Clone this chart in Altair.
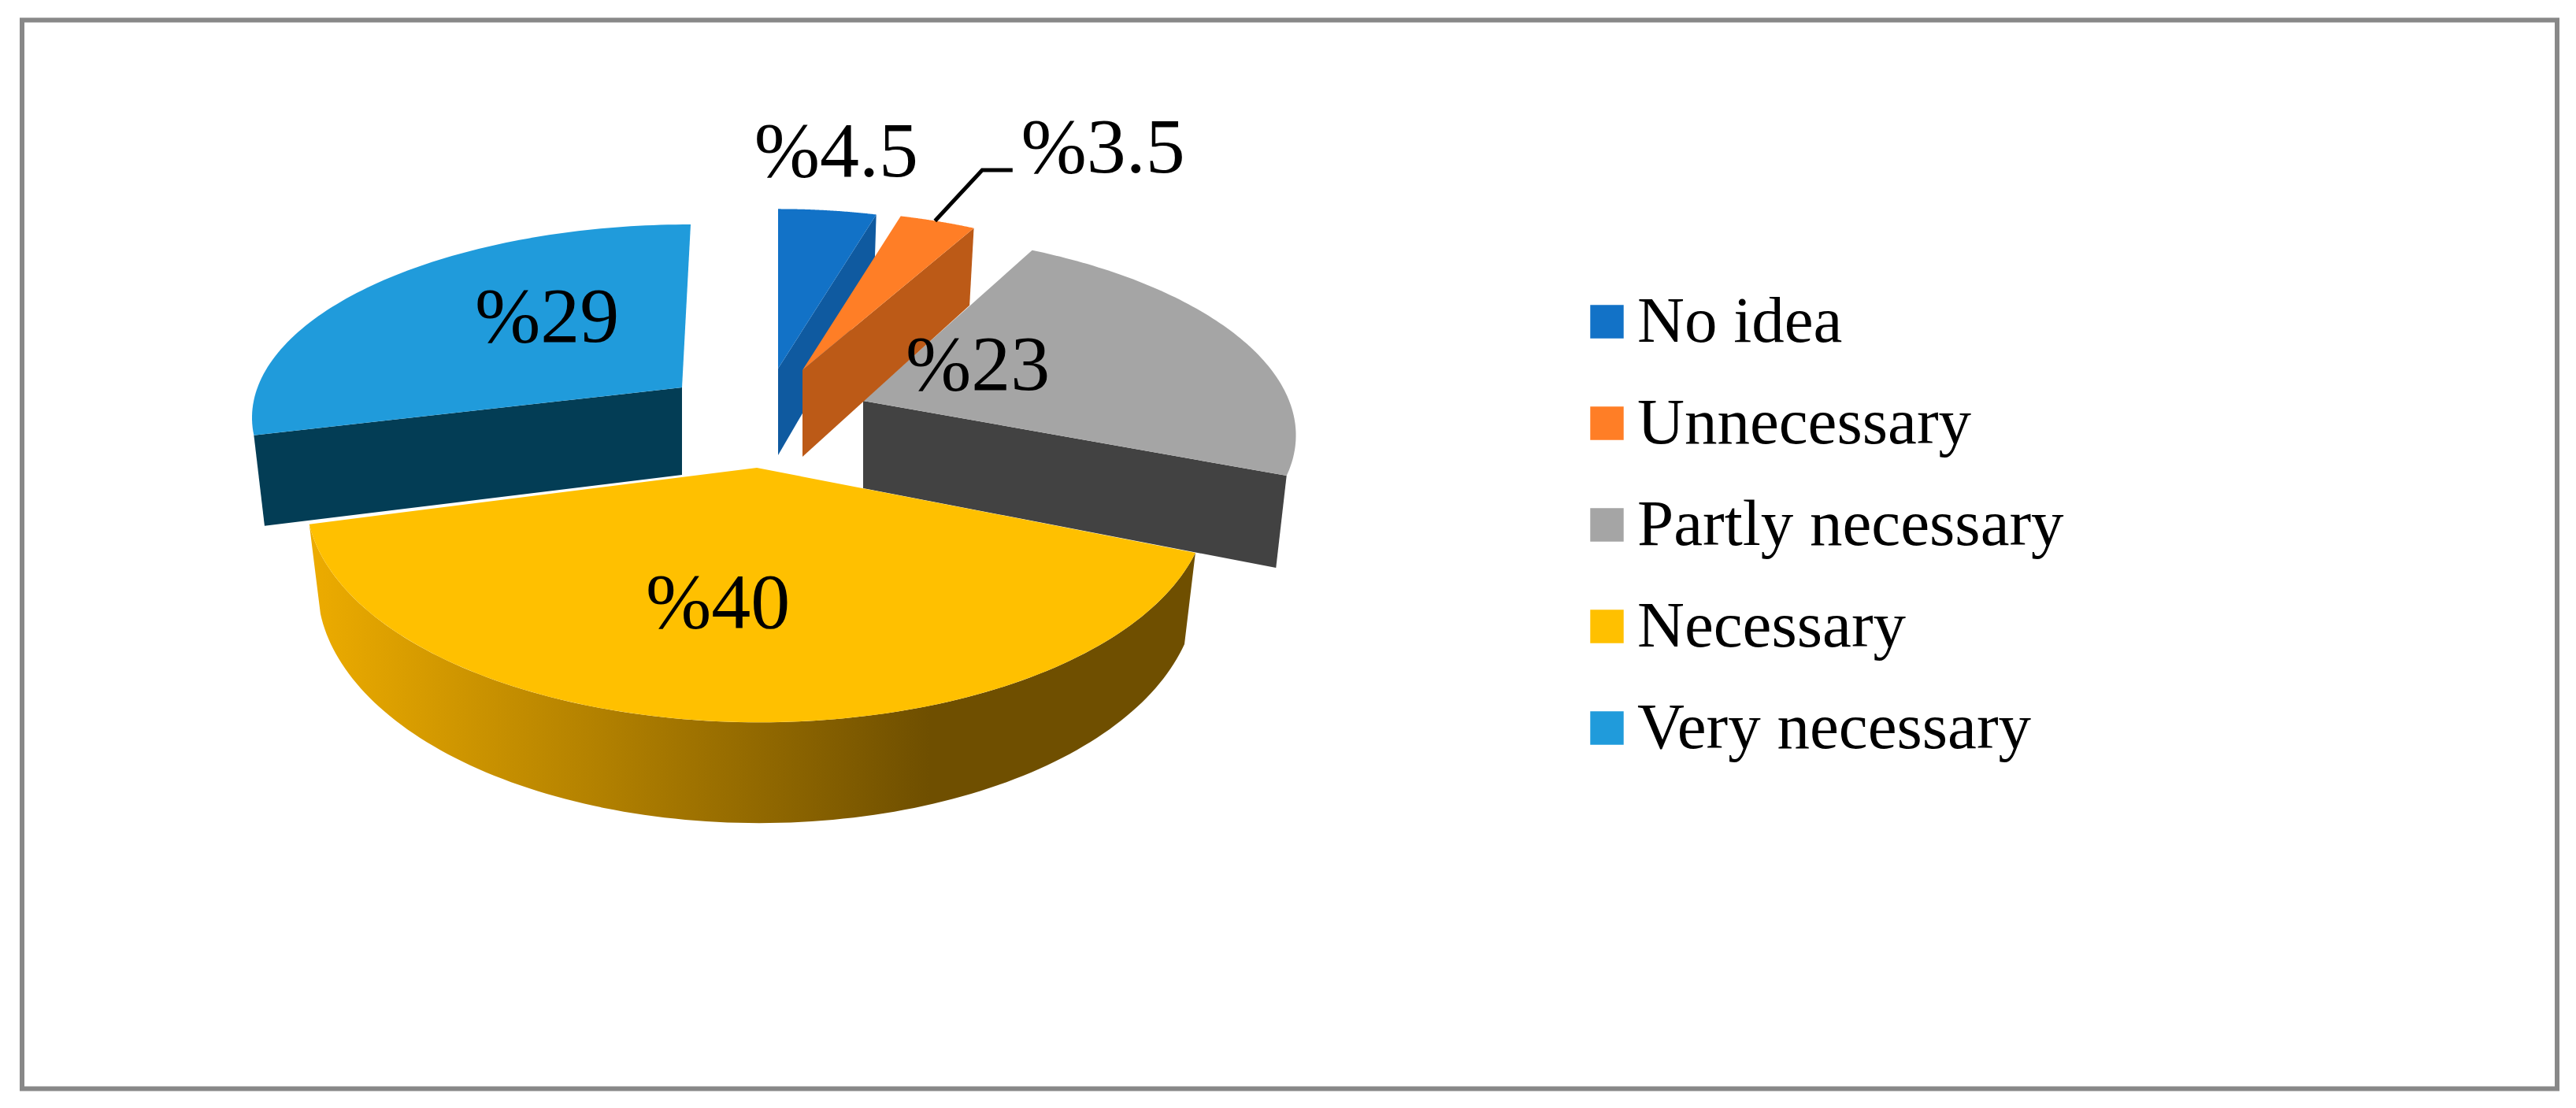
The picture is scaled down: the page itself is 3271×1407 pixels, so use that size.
import math
import altair as alt

# --- chart values -----------------------------------------------------------
CATEGORIES = ["No idea", "Unnecessary", "Partly necessary", "Necessary", "Very necessary"]
SHARES = [4.5, 3.5, 23, 40, 29]
LABELS = ["%4.5", "%3.5", "%23", "%40", "%29"]

# --- styles -----------------------------------------------------------------
TOP_COLORS = ["#1272C7", "#FF7E26", "#A5A5A5", "#FFC000", "#209BDB"]
SIDE_COLORS = ["#0F5AA0", "#BC5A17", "#424242", None, "#033D55"]
FONT = "Liberation Serif"

# --- pie geometry: one perspective disc per exploded slice ------------------
APEX_X = [988, 1019, 1096, 961, 866]
APEX_Y = [468, 470, 509, 594, 492]
RADIUS_X = [507, 507, 541, 567, 539]
RADIUS_Y = [231, 231, 245, 278, 236]
SHEAR = [0, 0, 20, 3, -11]
DEPTH = [110, 110, 111, 110, 111]
PERSPECTIVE = 0.14
BOTTOM_SCALE = 0.975
# label anchors in disc units (u to the right, v towards the viewer)
LABEL_U = [0.175, 0.907, 0.283, -0.083, -0.344]
LABEL_V = [-1.425, -1.465, -0.185, 0.572, -0.392]
# leader of the second label, in disc units of that slice
LEADER_U = [0.375, 0.532, 0.622]
LEADER_V = [-0.927, -1.30, -1.30]
DRAW_ORDER = [4, 2, 0, 1, 3]
FRAME = (28, 25.5, 3247, 1382.5)


def project_point(i, u, v):
    s = 1 / (1 - PERSPECTIVE * v)
    return (APEX_X[i] + RADIUS_X[i] * u * s + SHEAR[i] * v,
            APEX_Y[i] + RADIUS_Y[i] * v * s, s)


def on_rim(i, theta):
    return project_point(i, math.sin(theta), -math.cos(theta))


def below(i, p):
    return [APEX_X[i] + BOTTOM_SCALE * (p[0] - APEX_X[i]), p[1] + DEPTH[i] * p[2]]


total = sum(SHARES)
angles = []
acc = 0.0
for share in SHARES:
    start = acc / total * 2 * math.pi
    acc += share
    angles.append((start, acc / total * 2 * math.pi))


def feature(kind, coords, name=""):
    return {"type": "Feature", "properties": {"name": name},
            "geometry": {"type": kind, "coordinates": coords}}


def top_ring(i):
    t0, t1 = angles[i]
    n = 90
    ring = [[APEX_X[i], APEX_Y[i]]]
    for k in range(n + 1):
        p = on_rim(i, t0 + (t1 - t0) * k / n)
        ring.append([p[0], p[1]])
    ring.append(ring[0])
    return ring


def side_ring(i):
    t0, t1 = angles[i]
    if t1 - t0 > 2.2:  # the front slice shows its curved rim
        n = 120
        rim = [on_rim(i, t0 + (t1 - t0) * k / n) for k in range(n + 1)]
        ring = [[p[0], p[1]] for p in rim] + [below(i, p) for p in reversed(rim)]
    else:  # the others show the cut face closest to the viewer
        cut = t0 if -math.cos(t0) > -math.cos(t1) else t1
        p = on_rim(i, cut)
        a = (APEX_X[i], APEX_Y[i], 1.0)
        ring = [[a[0], a[1]], [p[0], p[1]], below(i, p), below(i, a)]
    ring.append(ring[0])
    return ring


PROJ = dict(type="identity", scale=1, translate=[-8, -8])

color = alt.Color(
    "properties.name:N",
    scale=alt.Scale(domain=CATEGORIES, range=TOP_COLORS),
    legend=alt.Legend(
        title=None, orient="none", legendX=1991, legendY=359, padding=0,
        symbolType="square", symbolSize=1800, symbolStrokeWidth=0,
        labelFont=FONT, labelFontSize=83, labelColor="black",
        labelOffset={"expr": "-3"},
        rowPadding=45, labelLimit=1000,
    ),
)

gradient = alt.Gradient(
    gradient="linear", x1=0, x2=1, y1=0, y2=0,
    stops=[alt.GradientStop(color="#EDAC00", offset=0),
           alt.GradientStop(color="#6F4F00", offset=0.7),
           alt.GradientStop(color="#6F4F00", offset=1)],
)

layers = []
l, t, r, b = FRAME
layers.append(
    alt.Chart(alt.Data(values=[feature("Polygon", [[[l, t], [r, t], [r, b], [l, b], [l, t]]])]))
    .mark_geoshape(filled=False, stroke="#888888", strokeWidth=6)
    .project(**PROJ)
)
for i in DRAW_ORDER:
    side = alt.Chart(alt.Data(values=[feature("Polygon", [side_ring(i)], CATEGORIES[i])]))
    fill = SIDE_COLORS[i] if SIDE_COLORS[i] else gradient
    layers.append(side.mark_geoshape(fill=fill, strokeWidth=0).project(**PROJ))
    top = alt.Chart(alt.Data(values=[feature("Polygon", [top_ring(i)], CATEGORIES[i])]))
    layers.append(top.mark_geoshape(strokeWidth=0).encode(color=color).project(**PROJ))

leader = [list(project_point(1, u, v)[:2]) for u, v in zip(LEADER_U, LEADER_V)]
layers.append(
    alt.Chart(alt.Data(values=[feature("LineString", leader)]))
    .mark_geoshape(filled=False, stroke="black", strokeWidth=5)
    .project(**PROJ)
)

label_rows = []
for i, txt in enumerate(LABELS):
    x, y, _ = project_point(i, LABEL_U[i], LABEL_V[i])
    label_rows.append({"lon": x, "lat": y, "txt": txt})
layers.append(
    alt.Chart(alt.Data(values=label_rows))
    .mark_text(font=FONT, fontSize=100, color="black", align="center", baseline="middle")
    .encode(longitude="lon:Q", latitude="lat:Q", text="txt:N")
    .project(**PROJ)
)

chart = (
    alt.layer(*layers)
    .properties(width=3250, height=1385, padding=0, background="white")
    .configure_view(stroke=None)
)
chart.save("out.html", embed_options={"renderer": "svg", "actions": False})
